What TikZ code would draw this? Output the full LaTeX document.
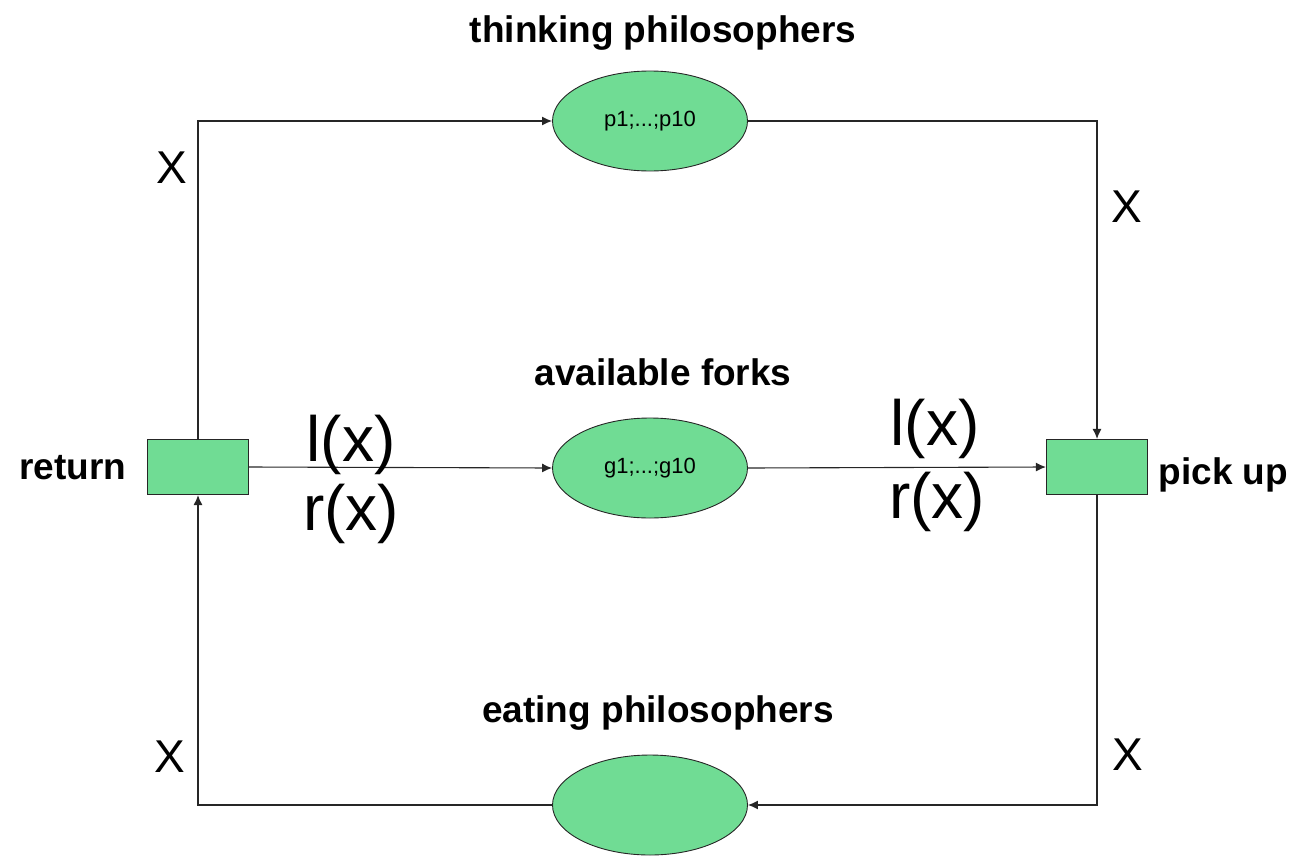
\documentclass[tikz,border=0pt]{standalone}
\usepackage{fontspec}
\setmainfont{Liberation Sans}
\usetikzlibrary{shapes.geometric,positioning,arrows.meta,calc}
\definecolor{placegreen}{RGB}{112,220,148}

\begin{document}
\begin{tikzpicture}[
    x=1pt, y=-1pt,
    place/.style={ellipse, draw=black!85, line width=0.9pt, fill=placegreen, minimum width=195pt, minimum height=100pt, inner sep=0pt, font=\fontsize{22}{24}\selectfont},
    trans/.style={rectangle, draw=black!85, line width=1.2pt, fill=placegreen, minimum width=101pt, minimum height=55pt, inner sep=0pt},
    title/.style={anchor=base, font=\fontsize{37}{40}\selectfont\bfseries},
    expr/.style={anchor=base, font=\fontsize{64}{68}\selectfont},
    var/.style={font=\fontsize{46}{48}\selectfont},
    arc/.style={-{Latex[length=10pt,width=9pt]}, line width=1.1pt, draw=black!85},
]
\useasboundingbox (0,0) rectangle (1297,859);

% ====== Places ======
\node[place] (think) at (650,121) {p1;...;p10};
\node[place] (forks) at (650,468) {g1;...;g10};
\node[place] (eat) at (650,805) {};

\node[title] (thinklbl) at (663,43) {thinking philosophers};
\node[title] (forkslbl) at (663,385) {available forks};
\node[title] (eatlbl) at (658,722) {eating philosophers};

% ====== Transitions ======
\node[trans] (ret) at (198,467) {};
\node[trans] (pick) at (1097,467) {};

\node[title, anchor=base east] (retlbl) at (130,479) {return};
\node[title, anchor=base west] (picklbl) at (1155,484) {pick up};

% ====== Arcs ======
\draw[arc] (ret.north) |- (think.west);
\draw[arc] (think.east) -| (pick.north);
\draw[arc] (pick.south) |- (eat.east);
\draw[arc] (eat.west) -| (ret.south);
\draw[arc] (ret.east) -- (forks.west);
\draw[arc] (forks.east) -- (pick.west);

% ====== Arc inscriptions ======
\node[var] (x1) at (172,168) {X};
\node[var] (x2) at (1127,207) {X};
\node[var] (x3) at (170,757) {X};
\node[var] (x4) at (1128,755) {X};

\node[expr] (lx1) at (351,461) {l(x)};
\node[expr] (rx1) at (351,530) {r(x)};
\node[expr] (lx2) at (935,445) {l(x)};
\node[expr] (rx2) at (937,518) {r(x)};

\end{tikzpicture}
\end{document}
